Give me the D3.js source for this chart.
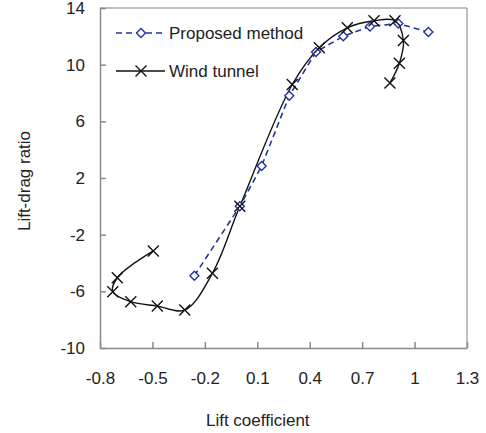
<!DOCTYPE html>
<html>
<head>
<meta charset="utf-8">
<script src="https://cdn.jsdelivr.net/npm/d3@7"></script>
<style>
  html, body { margin: 0; padding: 0; background: #fff; }
  svg { display: block; }
  text { font-family: "Liberation Sans", Arial, sans-serif; fill: #222; }
</style>
</head>
<body>
<svg id="chart" width="486" height="433"></svg>
<script>
// Lift coefficient vs. lift-drag ratio
const seriesNames = ["Proposed method", "Wind tunnel"];

const proposedCl = [-0.26, 0.0, 0.125, 0.283, 0.436, 0.592, 0.745, 0.907, 1.079];
const proposedLD = [-4.9, 0.0, 2.85, 7.8, 10.9, 12.0, 12.7, 12.9, 12.3];

const tunnelCl = [-0.495, -0.701, -0.727, -0.624, -0.472, -0.315, -0.157, 0.0,
                  0.30, 0.455, 0.615, 0.768, 0.888, 0.936, 0.913, 0.859];
const tunnelLD = [-3.15, -5.04, -6.03, -6.73, -7.04, -7.32, -4.73, 0.0,
                  8.6, 11.2, 12.6, 13.1, 13.1, 11.7, 10.1, 8.7];

const xTicks = [-0.8, -0.5, -0.2, 0.1, 0.4, 0.7, 1, 1.3];
const yTicks = [-10, -6, -2, 2, 6, 10, 14];

const xTitle = "Lift coefficient";
const yTitle = "Lift-drag ratio";

const margin = { left: 100, top: 8, right: 19, bottom: 85 };
const W = 486, H = 433;
const iw = W - margin.left - margin.right;
const ih = H - margin.top - margin.bottom;

const svg = d3.select("#chart");
const g = svg.append("g").attr("transform", `translate(${margin.left},${margin.top})`);

const x = d3.scaleLinear().domain([-0.8, 1.3]).range([0, iw]);
const y = d3.scaleLinear().domain([-10, 14]).range([ih, 0]);

const blue = "#2233a0";
const fontSize = 17;

// plot frame (top and right edges lighter)
g.append("line").attr("x1", 0).attr("x2", iw).attr("y1", 0).attr("y2", 0)
  .attr("stroke", "#a8a8a8").attr("stroke-width", 1.5);
g.append("line").attr("x1", iw).attr("x2", iw).attr("y1", 0).attr("y2", ih)
  .attr("stroke", "#a8a8a8").attr("stroke-width", 1.5);

// axes with inward ticks; labels use a plain hyphen for negatives
const xAxis = g.append("g").attr("transform", `translate(0,${ih})`)
  .call(d3.axisBottom(x).tickValues(xTicks).tickSizeInner(-6).tickSizeOuter(0)
    .tickFormat(d => String(d)));
const yAxis = g.append("g")
  .call(d3.axisLeft(y).tickValues(yTicks).tickSizeInner(-6).tickSizeOuter(0)
    .tickFormat(d => String(d)));

[xAxis, yAxis].forEach(a => {
  a.select(".domain").attr("stroke", "#8a8a8a").attr("stroke-width", 1.5);
  a.selectAll(".tick line").attr("stroke", "#8a8a8a").attr("stroke-width", 1.5);
  a.selectAll(".tick text").attr("font-size", fontSize)
    .attr("font-family", "Liberation Sans, Arial, sans-serif").attr("fill", "#222");
});
xAxis.selectAll(".tick text").attr("dy", "0.35em").attr("y", 30);
yAxis.selectAll(".tick text").attr("x", -15);

// axis titles
svg.append("text").attr("x", margin.left + x(0.1) + 0.5).attr("y", 426)
  .attr("text-anchor", "middle").attr("font-size", fontSize).text(xTitle);
svg.append("text")
  .attr("transform", `translate(30,${margin.top + ih / 2 + 3}) rotate(-90)`)
  .attr("text-anchor", "middle").attr("font-size", fontSize).text(yTitle);

// markers
const crossPath = s => `M${-s},${-s}L${s},${s}M${-s},${s}L${s},${-s}`;
const diamondPath = s => `M0,${-s}L${s},0L0,${s}L${-s},0Z`;

// Wind tunnel: smoothed black line with crosses
const tunnel = tunnelCl.map((c, i) => [c, tunnelLD[i]]);
g.append("path").datum(tunnel)
  .attr("fill", "none").attr("stroke", "#111").attr("stroke-width", 1.4)
  .attr("d", d3.line().x(d => x(d[0])).y(d => y(d[1])).curve(d3.curveCatmullRom.alpha(0.5)));

// Proposed method: dashed blue line with diamonds
const proposed = proposedCl.map((c, i) => [c, proposedLD[i]]);
g.append("path").datum(proposed)
  .attr("fill", "none").attr("stroke", blue).attr("stroke-width", 1.6)
  .attr("stroke-dasharray", "6,4")
  .attr("d", d3.line().x(d => x(d[0])).y(d => y(d[1])));

g.selectAll(".diamond").data(proposed).join("path").attr("class", "diamond")
  .attr("transform", d => `translate(${x(d[0])},${y(d[1])})`)
  .attr("d", diamondPath(4.5)).attr("fill", "#fff").attr("stroke", blue).attr("stroke-width", 1.4);

g.selectAll(".cross").data(tunnel).join("path").attr("class", "cross")
  .attr("transform", d => `translate(${x(d[0])},${y(d[1])})`)
  .attr("d", crossPath(5.5)).attr("fill", "none").attr("stroke", "#111").attr("stroke-width", 1.4);

// legend
const legend = svg.append("g");
const lx0 = 116, lx1 = 165, lxm = 141;
const rows = [
  { name: seriesNames[0], y: 33, color: blue, dash: "6,4", marker: diamondPath(4.5), fill: "#fff" },
  { name: seriesNames[1], y: 71, color: "#111", dash: null, marker: crossPath(5.5), fill: "none" }
];
rows.forEach(r => {
  legend.append("line").attr("x1", lx0).attr("x2", lx1).attr("y1", r.y).attr("y2", r.y)
    .attr("stroke", r.color).attr("stroke-width", 1.5).attr("stroke-dasharray", r.dash);
  legend.append("path").attr("transform", `translate(${lxm},${r.y})`)
    .attr("d", r.marker).attr("fill", r.fill).attr("stroke", r.color).attr("stroke-width", 1.4);
  legend.append("text").attr("x", 169).attr("y", r.y).attr("dy", "0.35em")
    .attr("font-size", fontSize).text(r.name);
});
</script>
</body>
</html>
